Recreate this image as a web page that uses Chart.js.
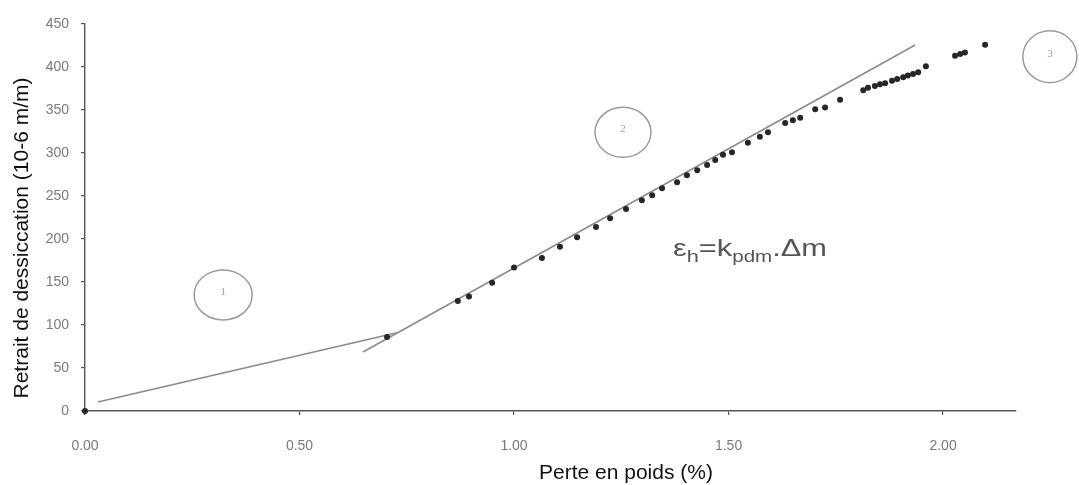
<!DOCTYPE html>
<html><head><meta charset="utf-8">
<script src="https://cdn.jsdelivr.net/npm/chart.js@4/dist/chart.umd.min.js"></script>
<style>html,body{margin:0;padding:0;background:#fff}#wrap{width:1079px;height:485px}</style>
</head><body><div id="wrap"><canvas id="c" width="1079" height="485"></canvas></div>
<script>
// Perte en poids (%) and Retrait de dessiccation (10-6 m/m)
const lossX = [0.0, 0.704, 0.869, 0.895, 0.949, 1.0, 1.065, 1.107, 1.147, 1.191, 1.224, 1.261, 1.298, 1.322, 1.345, 1.380, 1.403, 1.427, 1.450, 1.469, 1.487, 1.508, 1.545, 1.573, 1.592, 1.632, 1.650, 1.667, 1.702, 1.725, 1.760, 1.814, 1.825, 1.841, 1.853, 1.865, 1.881, 1.893, 1.907, 1.918, 1.930, 1.942, 1.960, 2.028, 2.040, 2.051, 2.098];
const shrinkY = [0, 86, 128, 133, 149, 167, 178, 191, 202, 214, 224, 235, 245, 251, 259, 266, 274, 280, 286, 292, 298, 301, 312, 319, 324, 335, 338, 341, 351, 353, 362, 373, 376, 378, 380, 381, 384, 386, 388, 390, 392, 394, 401, 413, 415, 417, 426];
// Fitted lines (zone 1 and zone 2)
const fit1X = [0.030, 0.727];
const fit1Y = [10.5, 91];
const fit2X = [0.648, 1.935];
const fit2Y = [68.6, 425.6];
// Zone markers
const zoneLabels = ['1', '2', '3'];
const zoneX = [0.322, 1.254, 2.249];
const zoneY = [135, 324, 412];
// Ticks
const xTicks = [0, 0.5, 1, 1.5, 2];
const xTickLabels = ['0.00', '0.50', '1.00', '1.50', '2.00'];
const yTicks = [0, 50, 100, 150, 200, 250, 300, 350, 400, 450];
const yTickLabels = ['0', '50', '100', '150', '200', '250', '300', '350', '400', '450'];
const xTitle = 'Perte en poids (%)';
const yTitle = 'Retrait de dessiccation (10-6 m/m)';

const pts = (xs, ys) => xs.map((x, i) => ({x: x, y: ys[i]}));

const decor = {
  id: 'decor',
  afterDraw(chart) {
    const ctx = chart.ctx, sx = chart.scales.x, sy = chart.scales.y;
    ctx.save();
    // zone circles
    const rx = [29, 28, 27], ry = [25, 25, 26];
    zoneLabels.forEach((lab, i) => {
      const cx = sx.getPixelForValue(zoneX[i]), cy = sy.getPixelForValue(zoneY[i]);
      ctx.beginPath();
      ctx.ellipse(cx, cy, rx[i], ry[i], 0, 0, Math.PI * 2);
      ctx.strokeStyle = '#9a9a9a';
      ctx.lineWidth = 1.5;
      ctx.stroke();
      ctx.fillStyle = '#a0a0a0';
      ctx.font = '11px "Liberation Serif"';
      ctx.textAlign = 'center';
      ctx.textBaseline = 'middle';
      ctx.fillText(lab, cx, cy - 3);
    });
    // equation (horizontally stretched like the scan)
    const parts = [['ε', 24, 0], ['h', 17, 6], ['=k', 24, 0], ['pdm', 16, 6], ['.', 24, 0], ['Δm', 24, 0]];
    let w = 0;
    parts.forEach(p => { ctx.font = p[1] + 'px "Liberation Sans"'; w += ctx.measureText(p[0]).width; });
    const k = 154 / w;
    ctx.save();
    ctx.translate(673, 256);
    ctx.scale(k, 1);
    ctx.textAlign = 'left';
    ctx.textBaseline = 'alphabetic';
    ctx.fillStyle = '#555';
    let x = 0;
    parts.forEach(p => {
      ctx.font = p[1] + 'px "Liberation Sans"';
      ctx.fillText(p[0], x, p[2]);
      x += ctx.measureText(p[0]).width;
    });
    ctx.restore();
    // axis titles
    ctx.fillStyle = '#111';
    ctx.font = '21px "Liberation Sans"';
    ctx.textAlign = 'center';
    ctx.textBaseline = 'middle';
    ctx.fillText(xTitle, 626, 473);
    ctx.translate(22, 238);
    ctx.rotate(-Math.PI / 2);
    ctx.fillText(yTitle, 0, 0);
    ctx.restore();
  }
};

new Chart(document.getElementById('c'), {
  type: 'scatter',
  data: {
    datasets: [
      {label: 'Mesures', data: pts(lossX, shrinkY), clip: 8, pointRadius: 3, pointBackgroundColor: '#262626', pointBorderColor: '#262626', pointBorderWidth: 0, showLine: false},
      {label: 'Zone 1', data: pts(fit1X, fit1Y), showLine: true, pointRadius: 0, borderColor: '#8a8a8a', borderWidth: 1.5},
      {label: 'Zone 2', data: pts(fit2X, fit2Y), showLine: true, pointRadius: 0, borderColor: '#8a8a8a', borderWidth: 1.5}
    ]
  },
  options: {
    responsive: false,
    devicePixelRatio: 1,
    animation: false,
    layout: {padding: {top: 24, right: 63, bottom: 0, left: 0}},
    plugins: {legend: {display: false}, tooltip: {enabled: false}},
    scales: {
      x: {
        type: 'linear', min: 0, max: 2.17,
        afterBuildTicks: s => { s.ticks = xTicks.map(v => ({value: v})); },
        afterFit: s => { s.height = 74; },
        grid: {display: true, drawOnChartArea: false, drawTicks: true, tickLength: 4, color: '#555', lineWidth: 1.2},
        border: {display: true, color: '#555', width: 1.4},
        ticks: {padding: 23, color: '#7a7a7a', font: {family: 'Liberation Sans', size: 14}, callback: (v, i) => xTickLabels[i]}
      },
      y: {
        type: 'linear', min: 0, max: 450,
        afterBuildTicks: s => { s.ticks = yTicks.map(v => ({value: v})); },
        afterFit: s => { s.width = 85; },
        grid: {display: true, drawOnChartArea: false, drawTicks: true, tickLength: 4, color: '#555', lineWidth: 1.2},
        border: {display: true, color: '#555', width: 1.4},
        ticks: {padding: 12, color: '#7a7a7a', font: {family: 'Liberation Sans', size: 14}, callback: (v, i) => yTickLabels[i]}
      }
    }
  },
  plugins: [decor]
});
</script>
</body></html>
